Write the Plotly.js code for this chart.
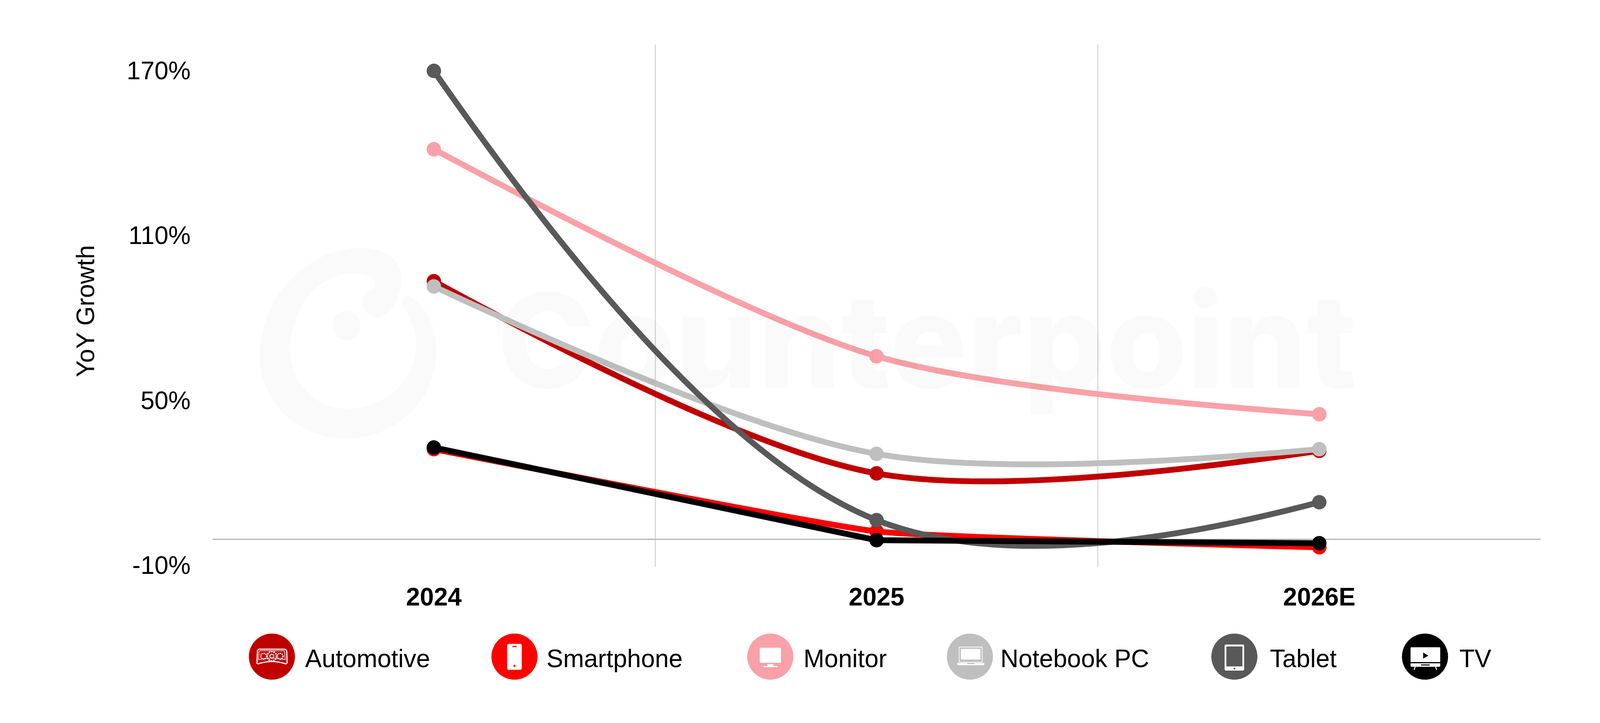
<!DOCTYPE html>
<html><head><meta charset="utf-8">
<script src="https://cdn.plot.ly/plotly-3.0.1.min.js"></script>
<style>html,body{margin:0;padding:0;background:#fff}#c{width:4134px;height:1852px}</style>
</head><body><div id="c"></div>
<script>
const categories = ['2024','2025','2026E'];
const seriesNames = ['Automotive','Smartphone','Monitor','Notebook PC','Tablet','TV'];
const automotive = [93.9, 24.0, 32.2];
const smartphone = [32.8, 2.9, -2.9];
const monitor = [141.9, 66.6, 45.5];
const notebookPC = [92.0, 31.1, 32.8];
const tablet = [170.4, 7.0, 13.5];
const tv = [33.4, -0.3, -1.4];
const colors = ['#C00000','#FF0000','#F9A1A8','#BFBFBF','#595959','#000000'];
const curveShapes = ['spline','spline','spline','spline','spline','linear'];
const curveSmoothing = [0.9, 0.35, 0.8, 0.9, 1.1, 0];
const yTickVals = [-10, 50, 110, 170];
const yTickText = ['-10%','50%','110%','170%'];
const seriesValues = [automotive, smartphone, monitor, notebookPC, tablet, tv];

const W = 4134, H = 1852, L = 544, R = 3944, T = 114, B = 1452;
const FONT = '"Liberation Sans", Arial, sans-serif';
const px = x => (x - L) / (R - L);
const py = y => (B - y) / (B - T);

const traces = seriesNames.map((name, i) => ({
  type: 'scatter', mode: 'lines+markers', name, x: categories, y: seriesValues[i],
  line: {color: colors[i], width: 15, shape: curveShapes[i], smoothing: curveSmoothing[i]},
  marker: {color: colors[i], size: 37}, showlegend: false, cliponaxis: false,
  hovertemplate: '%{x}: %{y}%<extra>' + name + '</extra>'
}));

function svgUri(w, h, inner, vb) {
  const s = `<svg xmlns="http://www.w3.org/2000/svg" width="${w}" height="${h}" viewBox="${vb}">${inner}</svg>`;
  return 'data:image/svg+xml;base64,' + btoa(s);
}
const glyphs = [
  // Automotive
  c => `<path d="M-33 -19 H32 Q37 -19 38 -13 L39 14 Q39 19 34 18 Q0 7 -34 18 Q-39 19 -38 14 L-37 -13 Q-36 -19 -33 -19 Z" fill="none" stroke="#fff" stroke-width="3"/>
  <path d="M-29 -15 H29 Q33 -15 33 -10 L34 8 Q0 0 -34 8 L-33 -10 Q-33 -15 -29 -15 Z" fill="none" stroke="#fff" stroke-width="1.6"/>
  <circle cx="0" cy="-1" r="12" fill="none" stroke="#fff" stroke-width="4" stroke-dasharray="4 2"/><circle cx="0" cy="-1" r="5" fill="none" stroke="#fff" stroke-width="2.5"/>
  <circle cx="-21" cy="-1" r="7.5" fill="none" stroke="#fff" stroke-width="3.5" stroke-dasharray="3 2"/><circle cx="21" cy="-1" r="7.5" fill="none" stroke="#fff" stroke-width="3.5" stroke-dasharray="3 2"/>`,
  // Smartphone
  c => `<rect x="-18.7" y="-32.7" width="37.4" height="66.4" rx="4" fill="#fff"/><rect x="-5.5" y="-27.5" width="11" height="3" fill="${c}"/><circle cx="0" cy="23.7" r="2.6" fill="${c}"/>`,
  // Monitor
  c => `<rect x="-27" y="-22.7" width="54.3" height="38.4" rx="2" fill="#fff"/><rect x="-8" y="19" width="16" height="5.5" fill="#fff"/><rect x="-18.7" y="24" width="37.4" height="3" rx="1.5" fill="#fff"/>`,
  // Notebook PC
  c => `<rect x="-27.5" y="-24.5" width="59" height="39" rx="2" fill="none" stroke="#fff" stroke-width="1.8"/><rect x="-23" y="-20" width="50" height="27.5" fill="#fff"/><path d="M-33 16.5 H37 V18 Q37 22 33 22 H-29 Q-33 22 -33 18 Z" fill="#fff"/><rect x="-7" y="16.5" width="18" height="2.6" fill="${c}"/>`,
  // Tablet
  c => `<rect x="-25" y="-31" width="50" height="66.7" rx="4" fill="#fff"/><rect x="-20.5" y="-26" width="41" height="51" fill="${c}"/><circle cx="0" cy="30.5" r="2.2" fill="${c}"/>`,
  // TV
  c => `<path d="M-35 -24 H37 Q39 -24 39 -22 V23 Q39 26 36 26 H-34 Q-37 26 -37 23 V-22 Q-37 -24 -35 -24 Z" fill="#fff"/><path d="M-4.7 -10.5 L8.5 -2.5 L-4.7 5 Z" fill="${c}"/><rect x="-37" y="14" width="76" height="3" fill="${c}"/><rect x="-10" y="20" width="22" height="2.6" fill="${c}"/><path d="M-25 26 L-28 34 M27 26 L30 34" stroke="#fff" stroke-width="2.4" fill="none"/>`
];
const iconCX = [696, 1317, 1972, 2483, 3160, 3648];
const textX = [780, 1398, 2056, 2560, 3250, 3735];
const iconCY = 1682, iconR = 59;

const images = seriesNames.map((n, i) => ({
  source: svgUri(120, 120, `<circle r="${iconR}" fill="${colors[i]}"/>` + glyphs[i](colors[i]), '-60 -60 120 120'),
  xref: 'paper', yref: 'paper', x: px(iconCX[i] - 60), y: py(iconCY - 60),
  sizex: 120 / (R - L), sizey: 120 / (B - T), xanchor: 'left', yanchor: 'top', sizing: 'stretch', layer: 'above'
}));
// faint logo mark behind the plot
const ring = `<path fill="#FAFAFA" d="M1028 776 Q1032 756 1047 759 Q1117 800 1117 901 C1117 1030 1010 1123 886 1123 C760 1123 665 1030 665 910 C665 760 790 635 921 635 C985 635 1029 665 1029 714 C1029 765 990 814 966 814 C945 814 928 795 928 772 C928 745 965 745 959 723 C955 705 930 700 907 700 C815 700 743 790 743 892 C743 985 810 1047 889 1047 C985 1047 1065 975 1065 884 C1065 835 1045 805 1028 776 Z"/><ellipse cx="887" cy="834" rx="36" ry="38" fill="#FAFAFA"/>`;
images.unshift({
  source: svgUri(W, H, ring, `0 0 ${W} ${H}`), xref: 'paper', yref: 'paper',
  x: px(0), y: py(0), sizex: W / (R - L), sizey: H / (B - T),
  xanchor: 'left', yanchor: 'top', sizing: 'stretch', layer: 'below'
});

const annotations = seriesNames.map((n, i) => ({
  text: n, xref: 'paper', yref: 'paper', x: px(textX[i]), y: py(1687), xanchor: 'left', yanchor: 'middle',
  showarrow: false, font: {family: FONT, size: 64, color: '#000'}, borderpad: 0
}));
annotations.push({
  text: 'YoY Growth', xref: 'paper', yref: 'paper', x: px(219), y: py(797), xanchor: 'center', yanchor: 'middle',
  textangle: -90, showarrow: false, font: {family: FONT, size: 64, color: '#000'}, borderpad: 0
});
annotations.push({
  text: 'Counterpoint', xref: 'paper', yref: 'paper', x: px(2373), y: py(871), xanchor: 'center', yanchor: 'middle',
  showarrow: false, font: {family: 'Inter, sans-serif', size: 334, weight: 800, color: 'rgba(0,0,0,0.02)'}, borderpad: 0
});

const layout = {
  width: W, height: H, autosize: false,
  margin: {l: L, r: W - R, t: T, b: H - B, pad: 0},
  paper_bgcolor: '#fff', plot_bgcolor: 'rgba(0,0,0,0)',
  showlegend: false, images, annotations,
  xaxis: {
    type: 'category', categoryorder: 'array', categoryarray: categories, range: [-0.5, 2.5],
    tickson: 'boundaries', showgrid: true, gridcolor: '#D9D9D9', gridwidth: 3, zeroline: false,
    showline: false, ticks: '', ticklabelstandoff: 34,
    tickfont: {family: FONT, size: 64, color: '#000', weight: 700}, fixedrange: true
  },
  yaxis: {
    range: [-10, 180], tickmode: 'array', tickvals: yTickVals, ticktext: yTickText,
    showgrid: false, zeroline: true, zerolinecolor: '#B3B3B3', zerolinewidth: 3,
    showline: false, ticks: '', ticklabelstandoff: 55, ticklabelshift: -4,
    tickfont: {family: FONT, size: 64, color: '#000'}, fixedrange: true
  }
};
Plotly.newPlot('c', traces, layout, {displayModeBar: false, staticPlot: true});
</script></body></html>
